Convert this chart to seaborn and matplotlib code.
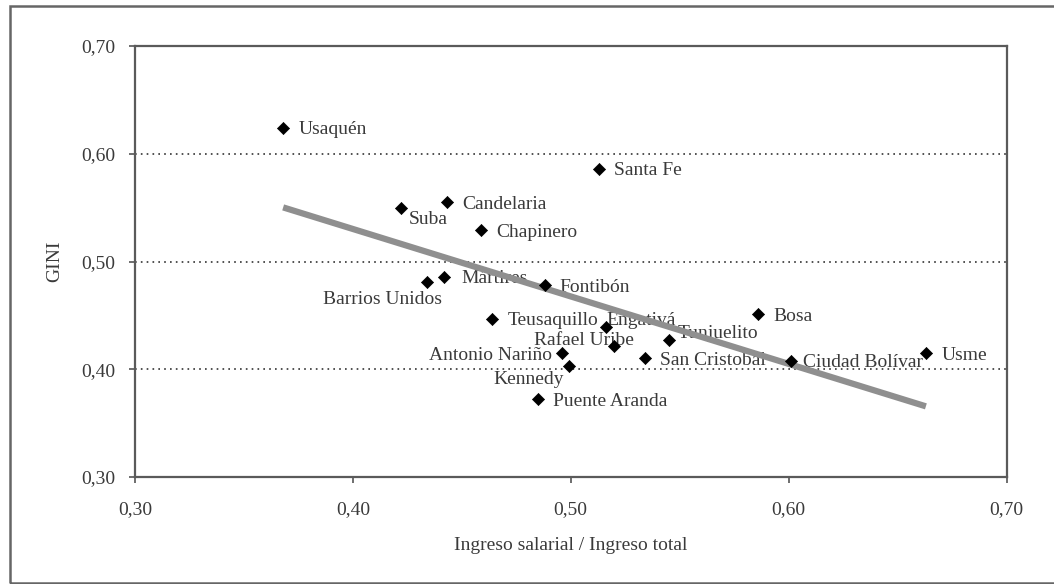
import numpy as np
import pandas as pd
import matplotlib
matplotlib.use("Agg")
import matplotlib.pyplot as plt
from matplotlib.patches import Rectangle
import seaborn as sns

# localidades de Bogotá: ingreso salarial / ingreso total vs GINI
localidades = ["Usaquén", "Santa Fe", "Candelaria", "Suba", "Chapinero", "Mártires",
               "Barrios Unidos", "Fontibón", "Teusaquillo", "Engativá", "Rafael Uribe",
               "Tunjuelito", "Antonio Nariño", "Kennedy", "San Cristobal", "Puente Aranda",
               "Bosa", "Ciudad Bolívar", "Usme"]
ingreso_salarial = [0.368, 0.513, 0.443, 0.422, 0.459, 0.442,
                    0.434, 0.488, 0.464, 0.516, 0.520,
                    0.545, 0.496, 0.499, 0.534, 0.485,
                    0.586, 0.601, 0.663]
gini = [0.624, 0.586, 0.555, 0.550, 0.529, 0.486,
        0.481, 0.478, 0.447, 0.439, 0.422,
        0.427, 0.415, 0.403, 0.410, 0.372,
        0.451, 0.408, 0.415]
ticks = [0.30, 0.40, 0.50, 0.60, 0.70]
tick_labels = ["0,30", "0,40", "0,50", "0,60", "0,70"]

df = pd.DataFrame({"loc": localidades, "x": ingreso_salarial, "y": gini})

# posicion de cada etiqueta (offset en puntos, alineacion)
default_off = ((11, -1.5), "left")
label_pos = {
    "Suba": ((6, -8.5), "left"),
    "Barrios Unidos": ((-32, -12.5), "center"),
    "Mártires": ((12, -1.5), "left"),
    "Engativá": ((0.5, 5), "left"),
    "Rafael Uribe": ((-22, 3.5), "center"),
    "Tunjuelito": ((6.5, 4.5), "left"),
    "Antonio Nariño": ((-7, -1.5), "right"),
    "Kennedy": ((-3.5, -10), "right"),
    "Ciudad Bolívar": ((8.5, -1.5), "left"),
}

sns.set_theme(style="white")
plt.rcParams["font.family"] = ["Liberation Serif", "DejaVu Serif"]
txt_color = "#3a3a3a"

fig = plt.figure(figsize=(10.54, 5.84), dpi=100)
ax = fig.add_axes([135 / 1054, 1 - 477 / 584, (1006.5 - 135) / 1054, (477 - 46) / 584])

# linea de tendencia
sns.regplot(data=df, x="x", y="y", scatter=False, ci=None, ax=ax,
            line_kws=dict(color="#8f8f8f", lw=4.5, solid_capstyle="butt", zorder=3))
sns.scatterplot(data=df, x="x", y="y", marker="D", s=38, color="black",
                edgecolor="black", linewidth=0.5, ax=ax, zorder=4, legend=False)

for _, r in df.iterrows():
    off, ha = label_pos.get(r["loc"], default_off)
    ax.annotate(r["loc"], (r["x"], r["y"]), xytext=off, textcoords="offset points",
                ha=ha, va="center", fontsize=14, color=txt_color, zorder=2)

ax.set_xlim(0.30, 0.70)
ax.set_ylim(0.30, 0.70)
ax.set_xticks(ticks)
ax.set_xticklabels(tick_labels)
ax.set_yticks(ticks)
ax.set_yticklabels(tick_labels)
ax.tick_params(axis="both", direction="out", length=4, width=1.2, color="#555555",
               labelsize=14, labelcolor=txt_color, bottom=True, left=True)
ax.tick_params(axis="x", pad=13)
ax.tick_params(axis="y", pad=10)
for y in [0.40, 0.50, 0.60]:
    ax.axhline(y, color="#333333", lw=1.2, ls=(0, (1, 2.5)), zorder=1)
for s in ax.spines.values():
    s.set_color("#5a5a5a")
    s.set_linewidth(1.6)

ax.set_xlabel("Ingreso salarial / Ingreso total", fontsize=14, color=txt_color, labelpad=14)
ax.set_ylabel("GINI", fontsize=14, color=txt_color, labelpad=13)

# marco exterior
fig.add_artist(Rectangle((10 / 1054, 1 / 584), 1.05, 577 / 584, transform=fig.transFigure,
                         fill=False, edgecolor="#666666", lw=1.8, clip_on=False))

fig.savefig("out.png", dpi=100)
